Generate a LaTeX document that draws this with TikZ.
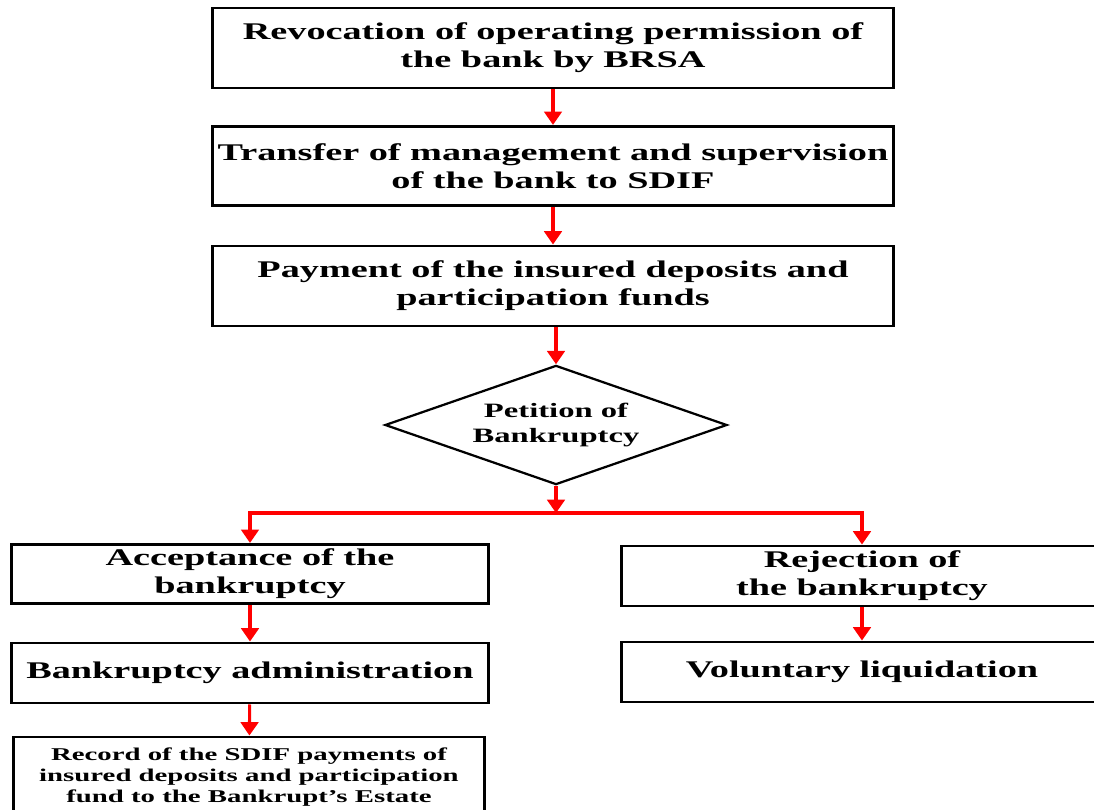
\documentclass[tikz,border=0pt]{standalone}
\usepackage{tikz}
\usepackage{fontspec}
\usetikzlibrary{shapes.geometric, positioning, arrows.meta}
\newfontfamily\widefont[FakeStretch=1.6]{Liberation Serif}

\tikzset{
 stage/.style={draw, rectangle, line width=2.1pt, align=center, inner sep=0pt,
   font=\widefont\bfseries\fontsize{17}{19.8}\selectfont},
 choice/.style={draw, diamond, aspect=2.9, line width=1.6pt, align=center, inner sep=0pt,
   minimum width=8.55cm, minimum height=2.98cm, font=\widefont\bfseries\fontsize{14.5}{17.7}\selectfont},
 flow/.style={draw=red, line width=2.2pt, -{Triangle[length=9.5pt,width=12.5pt]}},
}

\begin{document}
\begin{tikzpicture}[x=0.025cm, y=-0.025cm]
 \useasboundingbox (0,0) rectangle (1094,810); % page size
 \clip (0,0) rectangle (1094,810);
 % main line
 \node[stage, minimum width=17cm, minimum height=2cm] (revoke) at (553,48)
   {Revocation of operating permission of\\the bank by BRSA};
 \node[stage, minimum width=17cm, minimum height=1.98cm] (transfer) at (553,166)
   {Transfer of management and supervision\\of the bank to SDIF};
 \node[stage, minimum width=17cm, minimum height=2cm] (payment) at (553,286)
   {Payment of the insured deposits and\\participation funds};
 \node[choice] (petition) at (556,425) {Petition of\\Bankruptcy};
 \coordinate (split) at (556,513);
 % left branch
 \node[stage, minimum width=11.9cm, minimum height=1.48cm] (accept) at (250,574)
   {Acceptance of the\\bankruptcy};
 \node[stage, minimum width=11.9cm, minimum height=1.5cm] (admin) at (250,673)
   {Bankruptcy administration};
 \node[stage, minimum width=11.75cm, minimum height=2cm, font=\widefont\bfseries\fontsize{12.8}{15}\selectfont] (record) at (249,777)
   {Record of the SDIF payments of\\insured deposits and participation\\fund to the Bankrupt’s Estate};
 % right branch
 \node[stage, minimum width=12cm, minimum height=1.5cm] (reject) at (862,576)
   {Rejection of\\the bankruptcy};
 \node[stage, minimum width=12cm, minimum height=1.5cm] (volunt) at (862,672)
   {Voluntary liquidation};
 % connectors
 \draw[flow] (revoke.south -| transfer.north) -- (transfer);
 \draw[flow] (transfer) -- (payment);
 \draw[flow] (petition.north |- payment.south) -- (petition);
 \draw[flow] (petition) -- (split);
 \draw[flow] (split) -| (accept);
 \draw[flow] (split) -| (reject);
 \draw[flow] (accept) -- (admin);
 \draw[flow] (admin) -- (record);
 \draw[flow] (reject) -- (volunt);
\end{tikzpicture}
\end{document}
